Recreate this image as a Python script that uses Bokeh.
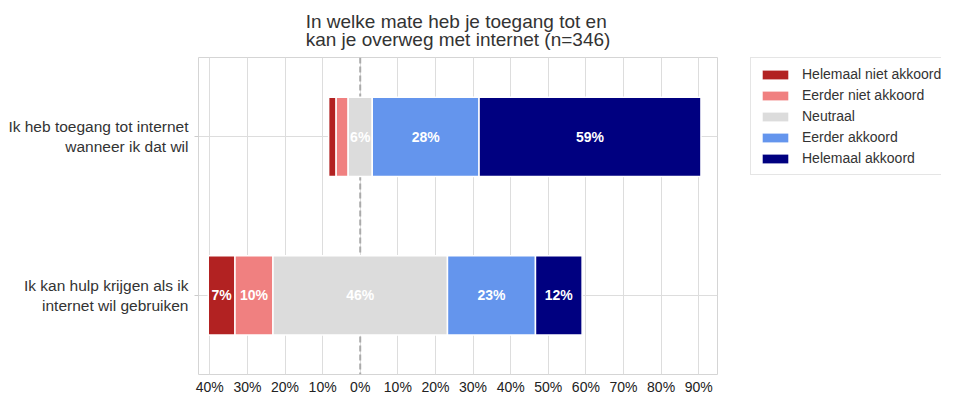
from bokeh.plotting import figure
from bokeh.layouts import row
from bokeh.models import (ColumnDataSource, FactorRange, Range1d, FixedTicker, Span,
                          Legend, LegendItem)
from bokeh.core.properties import value
from bokeh.embed import file_html
from bokeh.resources import INLINE

title_text = "In welke mate heb je toegang tot en\nkan je overweg met internet (n=346)"
categories = ["Ik heb toegang tot internet\nwanneer ik dat wil",
              "Ik kan hulp krijgen als ik\ninternet wil gebruiken"]
levels = ["Helemaal niet akkoord", "Eerder niet akkoord", "Neutraal",
          "Eerder akkoord", "Helemaal akkoord"]
helemaal_niet = [2.0, 7.1]
eerder_niet = [3.2, 10.1]
neutraal = [6.4, 46.4]
eerder_akkoord = [28.4, 23.4]
helemaal_akkoord = [59.0, 12.4]
colors = ["#b22222", "#f08080", "#dcdcdc", "#6495ed", "#000080"]
x_ticks = [-40, -30, -20, -10, 0, 10, 20, 30, 40, 50, 60, 70, 80, 90]

series = [helemaal_niet, eerder_niet, neutraal, eerder_akkoord, helemaal_akkoord]

FONT = "Liberation Sans"

p = figure(width=750, height=397, output_backend="svg", toolbar_location=None,
           y_range=FactorRange(factors=list(reversed(categories))),
           x_range=Range1d(-43, 95),
           min_border_left=198, min_border_right=33, min_border_top=57,
           min_border_bottom=0)

p.title.text = title_text
p.title.align = "center"
p.title.text_font = FONT
p.title.text_font_size = "19px"
p.title.text_font_style = "normal"
p.title.text_color = "#333333"
p.title.text_line_height = 0.87
p.title.offset = 0
p.title.standoff = 14

lefts = [[0.0] * len(categories) for _ in levels]
rights = [[0.0] * len(categories) for _ in levels]
for j in range(len(categories)):
    half = neutraal[j] / 2.0
    lefts[2][j], rights[2][j] = -half, half
    r = -half
    for i in (1, 0):
        lefts[i][j] = r - series[i][j]
        rights[i][j] = r
        r = lefts[i][j]
    l = half
    for i in (3, 4):
        lefts[i][j] = l
        rights[i][j] = l + series[i][j]
        l = rights[i][j]

zero = Span(location=0, dimension="height", line_color="#aaaaaa",
            line_dash="6 3", line_width=2, level="underlay")
p.add_layout(zero)

# separate legend panel (a figure that only holds the legend; its range
# contains none of the categories, so its bars are not drawn)
p2 = figure(width=191, height=397, output_backend="svg", toolbar_location=None,
            y_range=FactorRange(factors=["legend"]),
            x_range=Range1d(1000, 1001),
            min_border_left=0, min_border_right=0, min_border_top=57,
            min_border_bottom=0)
p2.axis.visible = False
p2.grid.visible = False
p2.outline_line_color = None

items = []
for i, name in enumerate(levels):
    src = ColumnDataSource(dict(
        y=categories, left=lefts[i], right=rights[i],
        mid=[(a + b) / 2 for a, b in zip(lefts[i], rights[i])],
        lab=[("%d%%" % round(v)) if v >= 5 else "" for v in series[i]],
    ))
    p.hbar(y="y", left="left", right="right", height=0.5, source=src,
           fill_color=colors[i], line_color="white", line_width=1.5)
    p.text(x="mid", y="y", text="lab", source=src, text_color="white",
           text_font=value(FONT), text_font_style="bold", text_font_size="14px",
           text_align="center", text_baseline="middle")
    r2 = p2.hbar(y="y", left="left", right="right", height=0.5, source=src,
                 fill_color=colors[i], line_color=None)
    items.append(LegendItem(label=name, renderers=[r2]))

legend = Legend(items=items, location="top_left", margin=0)
legend.label_text_font = FONT
legend.label_text_font_size = "14px"
legend.label_text_color = "#333333"
legend.glyph_width = 32
legend.glyph_height = 11
legend.label_height = 15
legend.spacing = 5
legend.padding = 8
legend.label_standoff = 11
legend.border_line_color = "#cccccc"
legend.background_fill_alpha = 1
p2.add_layout(legend)

p.xaxis.ticker = FixedTicker(ticks=x_ticks)
p.xaxis.major_label_overrides = {t: "%d%%" % abs(t) for t in x_ticks}
p.xgrid.ticker = FixedTicker(ticks=x_ticks)
p.xaxis.major_label_text_font = FONT
p.xaxis.major_label_text_font_size = "14px"
p.xaxis.major_label_text_color = "#222222"
p.xaxis.major_tick_line_color = None
p.xaxis.major_tick_out = 0
p.xaxis.major_tick_in = 0
p.xaxis.minor_tick_line_color = None
p.xaxis.minor_tick_out = 0
p.xaxis.axis_line_color = None
p.xaxis.major_label_standoff = 4

y0 = p.yaxis[0]
y0.major_label_text_font = FONT
y0.major_label_text_font_size = "15.5px"
y0.major_label_text_color = "#333333"
y0.major_tick_line_color = "#cccccc"
y0.major_tick_out = 4
y0.major_tick_in = 0
y0.axis_line_color = None
y0.major_label_standoff = 6

p.xgrid.grid_line_color = "#dddddd"
p.ygrid.grid_line_color = "#dddddd"
p.outline_line_color = "#d5d5d5"
p.background_fill_color = "white"
p.border_fill_color = "white"

layout = row(p, p2)
open("out.html", "w").write(file_html(layout, INLINE))
